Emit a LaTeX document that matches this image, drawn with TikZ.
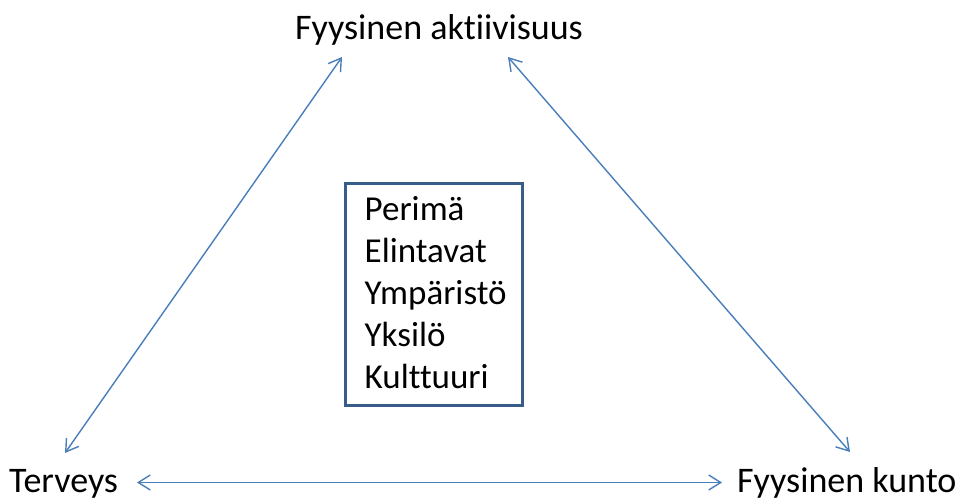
\documentclass[tikz,border=0pt]{standalone}
\usepackage{fontspec}
\setmainfont[Ligatures=NoCommon]{Carlito}
\usetikzlibrary{arrows.meta}
\usepackage{xcolor}
\definecolor{linkblue}{HTML}{4A7EBB}
\definecolor{frameblue}{HTML}{385D8A}

\begin{document}
\begin{tikzpicture}[x=1pt, y=1pt,
      lbl/.style={inner sep=0pt, font=\fontsize{36}{43}\selectfont},
      factorlist/.style={inner sep=0pt, align=left, font=\fontsize{35}{42}\selectfont},
      frame/.style={draw=frameblue, line width=3pt},
      link/.style={{Straight Barb[length=12pt,width=15pt]}-{Straight Barb[length=12pt,width=15pt]},
                   line width=1.4pt, draw=linkblue}
    ]
    \useasboundingbox (0,0) rectangle (961,501);

    \node[lbl, anchor=base]      (act)    at (439,461) {Fyysinen aktiivisuus};
    \node[lbl, anchor=base west] (health) at (9,8.5)   {Terveys};
    \node[lbl, anchor=base west] (fit)    at (737,8.5) {Fyysinen kunto};
    \node[factorlist, anchor=north west] (factors) at (364.5,305)
      {Perimä\\Elintavat\\Ympäristö\\Yksilö\\Kulttuuri};

    % frame round the factors
    \draw[frame] ([shift={(-19,12.5)}]factors.north west) rectangle ([shift={(157.5,-209.5)}]factors.north west);

    \draw[link] ([shift={(56,39.5)}]health.base west) -- ([shift={(-97,-17)}]act.base);
    \draw[link] ([shift={(69,-17)}]act.base) -- ([shift={(113,40.5)}]fit.base west);
    \draw[link] ([shift={(128,10)}]health.base west) -- ([shift={(-15,10)}]fit.base west);
  \end{tikzpicture}
\end{document}
